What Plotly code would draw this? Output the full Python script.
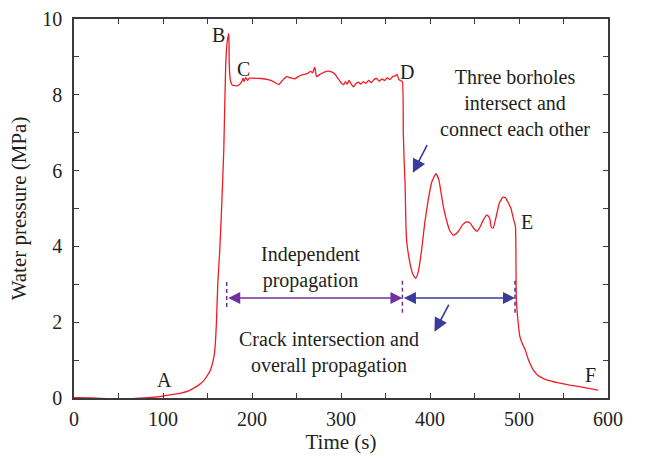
import plotly.graph_objects as go

# Water pressure history during injection
time_s = [0, 20, 40, 60, 80, 100, 110, 120, 128, 134.5, 140, 145.8, 150, 153.3, 156, 157.8, 159,
          160, 161.6, 163.8, 166, 168.3, 170.4, 172, 174, 174.3, 174.8, 176, 178, 181, 184, 188,
          190, 191, 193, 195, 197, 200, 210, 218, 224, 230, 235, 239, 243, 248, 252, 257, 262,
          266, 268, 270.5, 272.5, 277, 284, 290, 293, 297, 300, 303, 305, 307, 309, 311, 314,
          317, 320, 322, 325, 328, 331, 334, 337, 340, 343, 346, 349, 352, 355, 358, 361, 363,
          365, 367, 369, 370, 371, 372, 373, 374, 376, 378, 381, 384, 387, 390.6, 394, 398, 402,
          406.7, 410, 415, 419, 422.5, 426, 428, 432, 437, 441, 445, 449, 453, 456, 460, 464,
          467, 469, 471, 474, 478, 482, 485, 488, 491, 494, 496, 496.5, 497, 499, 501, 504, 507,
          511, 516, 521, 527, 535, 546, 557, 568, 580, 589]
pressure_mpa = [0.01, 0.0, -0.02, -0.02, 0.0, 0.05, 0.09, 0.13, 0.18, 0.26, 0.34, 0.46, 0.6,
                0.74, 0.95, 1.18, 1.5, 1.97, 3.03, 3.91, 5.1, 6.55, 8.75, 9.37, 9.62, 9.0, 8.6,
                8.35, 8.25, 8.24, 8.24, 8.33, 8.44, 8.35, 8.46, 8.38, 8.44, 8.44, 8.43, 8.4,
                8.35, 8.27, 8.4, 8.48, 8.45, 8.42, 8.48, 8.53, 8.56, 8.62, 8.58, 8.73, 8.48,
                8.55, 8.62, 8.6, 8.55, 8.42, 8.32, 8.27, 8.35, 8.28, 8.38, 8.3, 8.21, 8.3, 8.33,
                8.28, 8.35, 8.3, 8.38, 8.32, 8.4, 8.43, 8.36, 8.42, 8.38, 8.45, 8.4, 8.48, 8.5,
                8.54, 8.4, 8.37, 8.35, 7.0, 6.2, 5.67, 4.5, 4.09, 3.75, 3.5, 3.25, 3.16, 3.35,
                3.91, 4.6, 5.23, 5.7, 5.92, 5.75, 5.05, 4.65, 4.4, 4.3, 4.31, 4.4, 4.58, 4.65,
                4.62, 4.48, 4.4, 4.5, 4.7, 4.83, 4.75, 4.5, 4.48, 4.75, 5.15, 5.3, 5.28, 5.15,
                5.0, 4.7, 4.53, 3.9, 2.6, 2.0, 1.62, 1.42, 1.27, 0.98, 0.74, 0.6, 0.52, 0.45,
                0.39, 0.34, 0.3, 0.25, 0.21]

# Stage labels and their positions
point_labels = ["A", "B", "C", "D", "E", "F"]
label_t = [102, 162, 190, 374, 509, 580]
label_p = [0.48, 9.59, 8.67, 8.61, 4.65, 0.61]

# Stage boundaries (s) and the level of the span arrows (MPa)
stage_bounds = [171.6, 369.0, 495.5]
span_level = 2.64

x_ticks = [0, 100, 200, 300, 400, 500, 600]
y_ticks = [0, 2, 4, 6, 8, 10]

FONT = "Liberation Serif"
TXT = "#231f20"
PURPLE = "#7030a0"
BLUE = "#3b3b9c"
AXIS = "#3a3a3a"

fig = go.Figure()
fig.add_trace(go.Scatter(x=time_s, y=pressure_mpa, mode="lines",
                         line=dict(color="#ee1c25", width=1.3, shape="spline", smoothing=0.4),
                         showlegend=False, hoverinfo="skip"))

annotations = []
for lab, t, p in zip(point_labels, label_t, label_p):
    annotations.append(dict(x=t, y=p, text=lab, showarrow=False,
                            font=dict(family=FONT, size=20, color=TXT)))

# Double-headed span arrows
for (x0, x1), col in zip([(stage_bounds[0], stage_bounds[1]),
                          (stage_bounds[1], stage_bounds[2])], [PURPLE, BLUE]):
    annotations.append(dict(x=x1, y=span_level, ax=x0, ay=span_level,
                            xref="x", yref="y", axref="x", ayref="y",
                            text="", showarrow=True, arrowhead=2, startarrowhead=2,
                            arrowside="end+start", arrowsize=1.5, startarrowsize=1.5,
                            arrowwidth=1.6, arrowcolor=col))

# Pointer arrows
annotations.append(dict(x=380.7, y=5.94, ax=397.6, ay=6.71, xref="x", yref="y",
                        axref="x", ayref="y", text="", showarrow=True, arrowhead=2,
                        arrowsize=1.7, arrowwidth=1.6, arrowcolor=BLUE))
annotations.append(dict(x=405, y=1.75, ax=422, ay=2.5, xref="x", yref="y",
                        axref="x", ayref="y", text="", showarrow=True, arrowhead=2,
                        arrowsize=1.7, arrowwidth=1.6, arrowcolor=BLUE))

# Descriptive notes
notes = [
    (495, 7.79, "Three borholes<br>intersect and<br>connect each other"),
    (266, 3.45, "Independent<br>propagation"),
    (286, 1.19, "Crack intersection and<br>overall propagation"),
]
for t, p, txt in notes:
    annotations.append(dict(x=t, y=p, text=txt, showarrow=False, align="center",
                            font=dict(family=FONT, size=20, color=TXT)))

shapes = []
for xb, col, y0, y1 in zip(stage_bounds, [PURPLE, PURPLE, BLUE],
                           [2.4, 2.25, 2.25], [3.1, 3.12, 3.12]):
    shapes.append(dict(type="line", xref="x", yref="y", x0=xb, x1=xb, y0=y0, y1=y1,
                       line=dict(color=col, width=1.5, dash="4px,3px")))

axis_common = dict(showline=True, linecolor=AXIS, linewidth=1.5, mirror="ticks",
                   ticks="inside", ticklen=5, tickwidth=1.3, tickcolor=AXIS,
                   showgrid=False, zeroline=False, automargin=False,
                   tickfont=dict(family=FONT, size=20, color=TXT))

fig.update_layout(
    width=646, height=459,
    margin=dict(l=74, r=38, t=19, b=61),
    plot_bgcolor="white", paper_bgcolor="white",
    xaxis=dict(range=[0, 600], tickvals=x_ticks, ticklabelstandoff=2,
               minor=dict(dtick=50, ticks="inside", ticklen=5, tickcolor=AXIS),
               title=dict(text="Time (s)", font=dict(family=FONT, size=21, color=TXT),
                          standoff=3),
               **axis_common),
    yaxis=dict(range=[0, 10], tickvals=y_ticks, ticklabelstandoff=6,
               minor=dict(dtick=1, ticks="inside", ticklen=5, tickcolor=AXIS),
               title=dict(text="Water pressure (MPa)",
                          font=dict(family=FONT, size=21, color=TXT), standoff=10),
               **axis_common),
    annotations=annotations,
    shapes=shapes,
)

fig.write_html("out.html")
